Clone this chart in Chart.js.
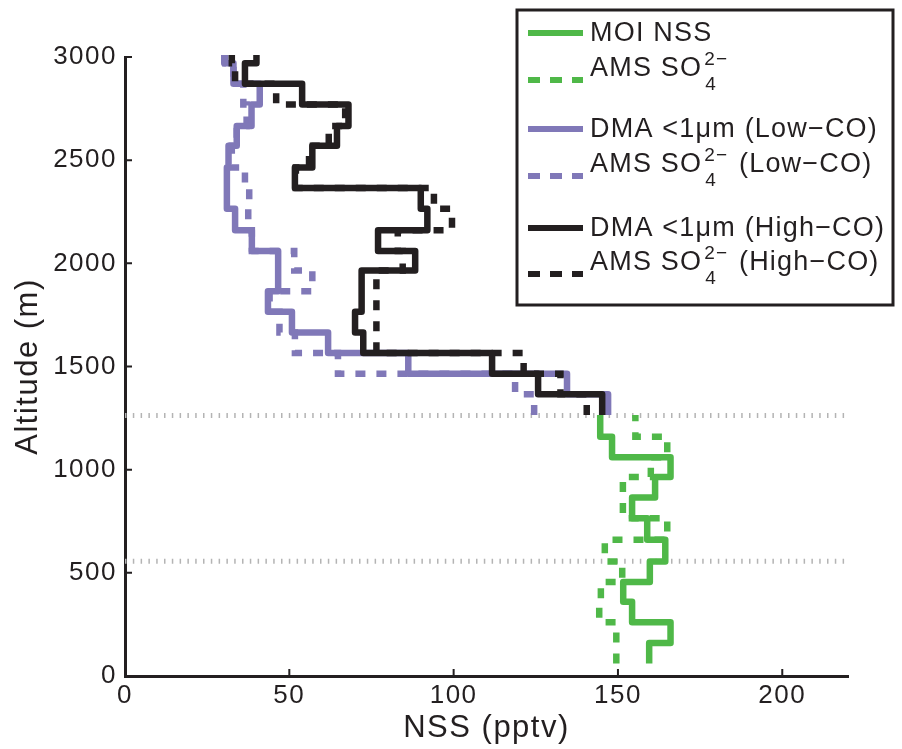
<!DOCTYPE html>
<html><head><meta charset="utf-8">
<script src="https://cdn.jsdelivr.net/npm/chart.js@4/dist/chart.umd.min.js"></script>
<style>html,body{margin:0;padding:0;background:#fff;}#wrap{position:relative;width:902px;height:749px;}</style>
</head><body><div id="wrap"><canvas id="c" width="902" height="749"></canvas></div>
<script>
// ---- data ----
const xTicks = [0, 50, 100, 150, 200];
const yTicks = [0, 500, 1000, 1500, 2000, 2500, 3000];
const xTitle = 'NSS (pptv)';
const yTitle = 'Altitude (m)';

// MOI (green) altitude bin edges (m) and values (pptv)
const altEdgesMoi = [60,160,260,360,455,555,660,765,865,965,1060,1160,1265];
const moiNss      = [159.5,166,154.3,151.6,159.7,164.4,158.9,154.3,161.3,166,148.2,144.6];
const amsSo4      = [149.5,149.5,144.3,144.8,151.3,146,165,151.5,151.5,160,165,155.3];

// DMA / AMS above cloud altitude bin edges (m) and values (pptv)
const altEdgesDma = [1265,1365,1465,1565,1665,1765,1865,1965,2060,2160,2265,2365,2465,2570,2665,2770,2870,2970,3010];
const dmaLowCo  = [147,134.5,86.2,61.8,50.8,43.5,46.6,46.6,38.6,33.5,31,31,31.5,34,38.5,41,33,30.2];
const amsLowCo  = [124.5,118.7,64.8,51.7,47,44,57,51.5,38.6,37.5,37.8,36.5,32.5,34,37,36,33,30.5];
const dmaHighCo = [145.2,125.7,111.7,72.5,70,72,72,88.3,77,92,90,51.7,57,64.5,68,53.9,36.5,40];
const amsHighCo = [140.5,132.5,121.3,76.5,76.5,76.5,76.5,84.5,83,99.5,94,52,56,62,67,46,33.5,32.5];

// dotted reference altitudes (m)
const refAltitudes = [1262, 556];
const refRange = [0, 220];

const legendLabels = [
  {text:'MOI NSS'},
  {text:'AMS SO', sub:'4', sup:'2\u2212', tail:''},
  {text:'DMA <1\u03BCm (Low\u2212CO)'},
  {text:'AMS SO', sub:'4', sup:'2\u2212', tail:' (Low\u2212CO)'},
  {text:'DMA <1\u03BCm (High\u2212CO)'},
  {text:'AMS SO', sub:'4', sup:'2\u2212', tail:' (High\u2212CO)'}
];

// ---- styles ----
const GREEN = '#4fb848', PURPLE = '#8078b8', BLACK = '#231f20';
const FONT = '"Liberation Sans", Arial, Helvetica, sans-serif';
const DASH = [10, 11];

function profile(edges, vals) {
  const pts = [];
  vals.forEach((v, i) => { pts.push({x: v, y: edges[i]}); pts.push({x: v, y: edges[i + 1]}); });
  return pts;
}
function ds(label, edges, vals, color, dashed, order) {
  return {label, data: profile(edges, vals), borderColor: color, backgroundColor: color,
    borderWidth: 6.5, borderDash: dashed ? DASH : [], borderCapStyle: 'butt',
    borderJoinStyle: dashed ? 'miter' : 'round', pointRadius: 0, showLine: true,
    tension: 0, fill: false, order, clip: false};
}
const datasets = [
  ds('MOI NSS', altEdgesMoi, moiNss, GREEN, false, 2),
  ds('AMS SO4', altEdgesMoi, amsSo4, GREEN, true, 2),
  ds('DMA <1um (Low-CO)', altEdgesDma, dmaLowCo, PURPLE, false, 1),
  ds('AMS SO4 (Low-CO)', altEdgesDma, amsLowCo, PURPLE, true, 1),
  ds('DMA <1um (High-CO)', altEdgesDma, dmaHighCo, BLACK, false, 0),
  ds('AMS SO4 (High-CO)', altEdgesDma, amsHighCo, BLACK, true, 0)
];
refAltitudes.forEach(a => datasets.push({label: 'ref', data: [{x: refRange[0], y: a}, {x: refRange[1], y: a}],
  borderColor: '#b4b4b4', borderWidth: 5, borderDash: [1.5, 6.3], borderCapStyle: 'butt',
  pointRadius: 0, showLine: true, order: 3}));

const inwardTicks = {
  id: 'inwardTicks',
  afterDatasetsDraw(chart) {
    const ctx = chart.ctx, xs = chart.scales.x, ys = chart.scales.y, a = chart.chartArea;
    ctx.save();
    ctx.strokeStyle = BLACK; ctx.lineWidth = 2;
    ctx.beginPath();
    xs.ticks.forEach(t => { const p = xs.getPixelForValue(t.value); ctx.moveTo(p, a.bottom); ctx.lineTo(p, a.bottom - 7); });
    ys.ticks.forEach(t => { const p = ys.getPixelForValue(t.value); ctx.moveTo(a.left, p); ctx.lineTo(a.left + 7, p); });
    ctx.stroke();
    ctx.restore();
  }
};

const spacing = {
  id: 'spacing',
  beforeDraw(chart) { chart.ctx.letterSpacing = '1.5px'; }
};

const customLegend = {
  id: 'customLegend',
  afterDraw(chart) {
    const ctx = chart.ctx;
    ctx.save();
    ctx.letterSpacing = '1.2px';
    ctx.lineWidth = 3; ctx.strokeStyle = BLACK; ctx.setLineDash([]);
    ctx.strokeRect(517, 10, 376, 295);
    const rows = [33, 80, 129, 176, 228, 274];
    legendLabels.forEach((item, i) => {
      const d = chart.data.datasets[i];
      const y = rows[i];
      ctx.beginPath();
      ctx.strokeStyle = d.borderColor; ctx.lineWidth = 6; ctx.lineCap = 'butt';
      ctx.setLineDash(d.borderDash.length ? [12, 10] : []);
      ctx.moveTo(528, y); ctx.lineTo(583, y); ctx.stroke();
      ctx.setLineDash([]);
      ctx.fillStyle = BLACK; ctx.textAlign = 'left';
      if (!item.sub) {
        ctx.font = '27px ' + FONT; ctx.textBaseline = 'middle';
        ctx.fillText(item.text, 590, y + 1);
      } else {
        const base = y - 4;
        ctx.textBaseline = 'alphabetic';
        ctx.font = '27px ' + FONT;
        ctx.fillText(item.text, 590, base);
        const w = ctx.measureText(item.text).width;
        ctx.font = '19px ' + FONT;
        const xs = 590 + w + 2;
        ctx.fillText(item.sup, xs, base - 11);
        ctx.fillText(item.sub, xs + 1, base + 14);
        const ws = ctx.measureText(item.sup).width;
        if (item.tail) { ctx.font = '27px ' + FONT; ctx.fillText(item.tail, xs + ws + 2, base); }
      }
    });
    ctx.restore();
  }
};

new Chart(document.getElementById('c'), {
  type: 'scatter',
  data: {datasets},
  plugins: [spacing, inwardTicks, customLegend],
  options: {
    responsive: false, animation: false, devicePixelRatio: 1,
    layout: {padding: {left: 0, right: 54, top: 57, bottom: 0}},
    plugins: {legend: {display: false}, tooltip: {enabled: false}},
    scales: {
      x: {type: 'linear', min: 0, max: 220,
        afterBuildTicks: s => { s.ticks = xTicks.map(v => ({value: v})); },
        afterFit: s => { s.height = 73; },
        grid: {display: false, drawTicks: false},
        border: {display: true, color: BLACK, width: 3},
        ticks: {color: BLACK, font: {family: FONT, size: 26}, padding: 4, autoSkip: false, maxRotation: 0,
          callback: v => String(v)},
        title: {display: true, text: xTitle, color: BLACK, font: {family: FONT, size: 31}, padding: {top: 0, bottom: 2}}
      },
      y: {type: 'linear', min: 0, max: 3000,
        afterBuildTicks: s => { s.ticks = yTicks.map(v => ({value: v})); },
        afterFit: s => { s.width = 125; },
        grid: {display: false, drawTicks: false},
        border: {display: true, color: BLACK, width: 3},
        ticks: {color: BLACK, font: {family: FONT, size: 26}, padding: 8, autoSkip: false,
          callback: v => String(v)},
        title: {display: true, text: yTitle, color: BLACK, font: {family: FONT, size: 31}, padding: {top: 10, bottom: 0}}
      }
    }
  }
});
</script></body></html>
